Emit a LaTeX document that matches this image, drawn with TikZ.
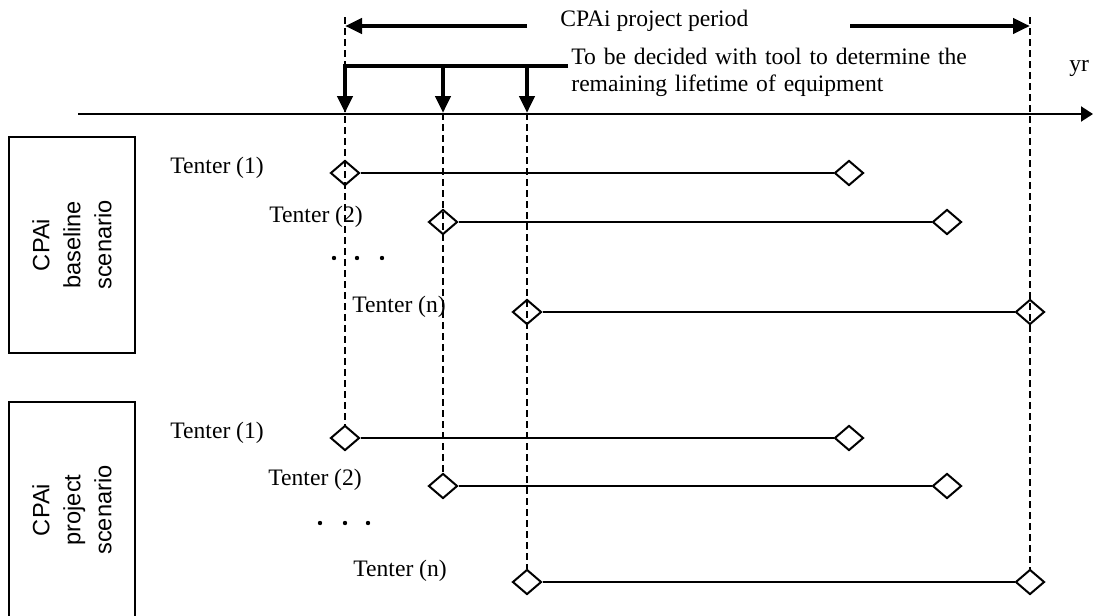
\documentclass[tikz,border=0pt]{standalone}
\usepackage{fontspec}
\setmainfont{Liberation Serif}
\setsansfont{Liberation Sans}
\usetikzlibrary{shapes.geometric,arrows.meta}

\tikzset{
 dmd/.style={draw,diamond,line width=1pt,minimum width=14.5pt,minimum height=12.5pt,inner sep=0pt},
 tenter/.style={anchor=west,inner sep=0pt,font=\fontsize{11.8}{14}\selectfont},
 row/.style={line width=1pt},
 guide/.style={line width=0.8pt,dash pattern=on 3.5pt off 2pt},
 period/.style={line width=2.2pt,-{Triangle[length=8.5pt,width=7.5pt]}},
 scenbox/.style={draw,line width=1.2pt,rotate=90,minimum width=108pt,minimum height=63pt,
  align=center,font=\sffamily\fontsize{11.8}{15.5}\selectfont}
}

\begin{document}
\begin{tikzpicture}[x=0.5pt,y=-0.5pt]
 \useasboundingbox (0,0) rectangle (1093,616);
 \clip (0,0) rectangle (1093,616);

 % scenario boxes
 \node[scenbox] (base) at (72,245) {CPAi\\baseline\\scenario};
 \node[scenbox] (proj) at (72,510) {CPAi\\project\\scenario};

 % equipment lifetimes
 \node[dmd] (bl1) at (345,173) {};
 \node[dmd] (br1) at (849,173) {};
 \node[dmd] (bl2) at (443,222) {};
 \node[dmd] (br2) at (947,222) {};
 \node[dmd] (bln) at (527,312) {};
 \node[dmd] (brn) at (1030,312) {};
 \node[dmd] (pl1) at (345,438) {};
 \node[dmd] (pr1) at (849,438) {};
 \node[dmd] (pl2) at (443,486) {};
 \node[dmd] (pr2) at (947,486) {};
 \node[dmd] (pln) at (527,582) {};
 \node[dmd] (prn) at (1030,582) {};
 \foreach \r in {1,2,n} {
  \draw[row] (bl\r.east) -- (br\r.west);
  \draw[row] (pl\r.east) -- (pr\r.west);
 }

 \node[tenter] (tb1) at (170,168) {Tenter (1)};
 \node[tenter] (tb2) at (269,217) {Tenter (2)};
 \node[tenter] (tbn) at (352,307) {Tenter (n)};
 \node[tenter] (tp1) at (170,433) {Tenter (1)};
 \node[tenter] (tp2) at (268,480) {Tenter (2)};
 \node[tenter] (tpn) at (353,571) {Tenter (n)};

 \foreach \x in {334,357,382} \fill (\x,258) circle (2.2);
 \foreach \x in {320,345,368} \fill (\x,523) circle (2.2);

 % time axis
 \coordinate (ax0) at (78,114);
 \coordinate (ax1) at (1093,114);
 \draw[line width=1pt,-{Triangle[length=6pt,width=7.5pt]}] (ax0) -- (ax1);
 \node[anchor=west,inner sep=0pt,font=\fontsize{11.8}{14}\selectfont] (yr) at (1069,68) {yr};

 % start years and project period
 \coordinate (g1) at (345,17);
 \coordinate (g4) at (1030,17);
 \coordinate (k1) at (345,66);
 \coordinate (k2) at (443,66);
 \coordinate (k3) at (527,66);
 \coordinate (kend) at (568,66);
 \coordinate (a1) at (345,113);
 \coordinate (a2) at (443,113);
 \coordinate (a3) at (527,113);

 \draw[guide] (g1) -- (pl1.north);
 \draw[guide] (a2) -- (pl2.north);
 \draw[guide] (a3) -- (pln.north);
 \draw[guide] (g4) -- (prn.north);

 \node[anchor=west,inner sep=0pt,font=\fontsize{11.8}{14}\selectfont] (per) at (560,21) {CPAi project period};
 \coordinate (pa) at (527,26);
 \coordinate (pb) at (850,26);
 \draw[period] (pa) -- (g1 |- pa);
 \draw[period] (pb) -- (g4 |- pb);

 \draw[period] (kend) -- (k1) -- (a1);
 \draw[period] (k2) -- (a2);
 \draw[period] (k3) -- (a3);
 \node[anchor=north west,inner sep=0pt,text width=201pt,align=left,
  font=\fontsize{11.8}{13.3}\selectfont] (tbd) at (571,48)
  {\noindent\makebox[201pt][s]{To be decided with tool to determine the}\\remaining lifetime of equipment};
\end{tikzpicture}
\end{document}
